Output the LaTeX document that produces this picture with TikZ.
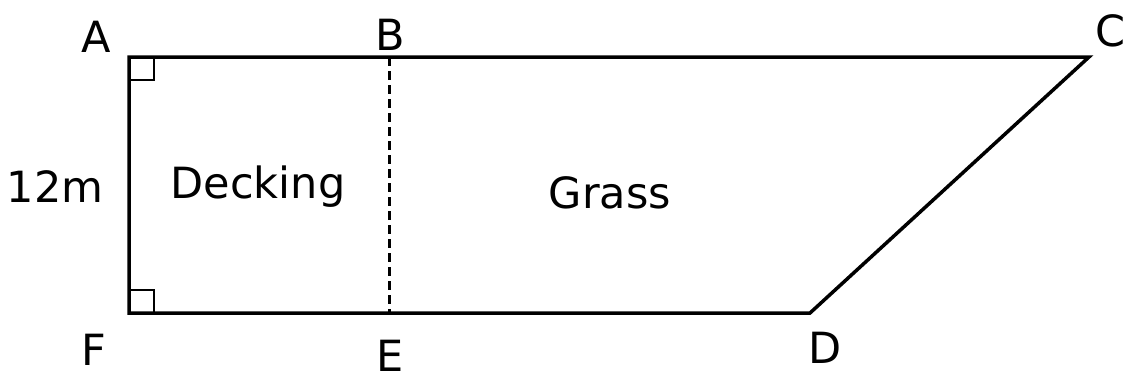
\documentclass[tikz,border=0pt]{standalone}
\usepackage{fontspec}
\setmainfont{DejaVu Sans}
\begin{document}
\begin{tikzpicture}[x=1pt,y=-1pt,
  lbl/.style={font=\fontsize{43}{46}\selectfont, inner sep=0pt},
  edge/.style={line width=3.5pt, line join=miter, line cap=butt},
  dashline/.style={line width=3pt, dash pattern=on 9pt off 5pt}]
\useasboundingbox (0,0) rectangle (1132,380);
\coordinate (A) at (129,57);
\coordinate (B) at (389,57);
\coordinate (C) at (1089,57);
\coordinate (D) at (810,313);
\coordinate (E) at (389,313);
\coordinate (F) at (129,313);
\draw[edge] (A) -- (C) -- (D) -- (F) -- cycle;
\draw[dashline] (B) -- (E);
\draw[line width=2pt] (A) ++(1.5,23) -- ++(23,0) -- ++(0,-23);
\draw[line width=2pt] (F) ++(1.5,-23) -- ++(23,0) -- ++(0,23);
\node[lbl] (la) at (96,37) {A};
\node[lbl] (lb) at (390,35) {B};
\node[lbl] (lc) at (1110,31) {C};
\node[lbl] (lf) at (94,350) {F};
\node[lbl] (le) at (390,356) {E};
\node[lbl] (ld) at (825,348) {D};
\node[lbl] (len) at (55,187) {12m};
\node[lbl] (deck) at (258,187) {Decking};
\node[lbl] (grass) at (610,193) {Grass};
\end{tikzpicture}
\end{document}
